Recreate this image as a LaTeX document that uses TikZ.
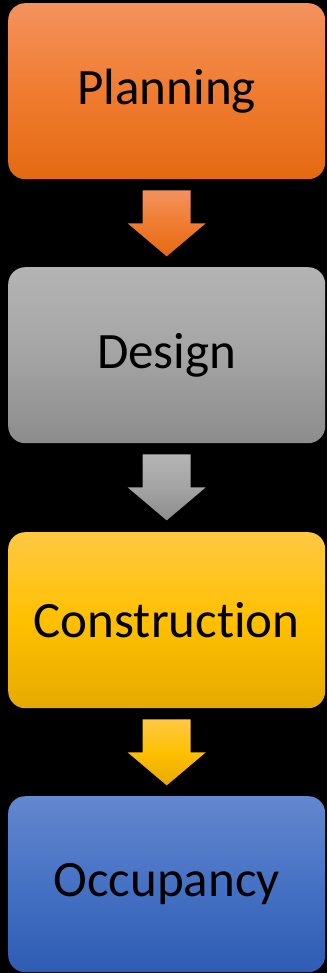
\documentclass[tikz,border=0pt]{standalone}
\usepackage{fontspec}
\setmainfont[Ligatures={NoCommon,NoRare,NoDiscretionary}]{Carlito}
\usetikzlibrary{calc}
\definecolor{orT}{RGB}{243,146,94}
\definecolor{orM}{RGB}{240,124,48}
\definecolor{orB}{RGB}{227,106,18}
\definecolor{grT}{RGB}{180,180,180}
\definecolor{grM}{RGB}{164,164,164}
\definecolor{grB}{RGB}{140,140,140}
\definecolor{ylT}{RGB}{255,200,66}
\definecolor{ylM}{RGB}{255,192,0}
\definecolor{ylB}{RGB}{230,170,0}
\definecolor{blT}{RGB}{100,135,206}
\definecolor{blM}{RGB}{70,114,196}
\definecolor{blB}{RGB}{46,92,180}
\begin{document}
\begin{tikzpicture}[x=1pt,y=-1pt,
  stage/.style={rounded corners=17pt, minimum width=317pt, minimum height=176pt,
    inner sep=0pt, font=\fontsize{51}{60}\selectfont, text=black, anchor=north west},
  orangefill/.style={top color=orT, bottom color=orB, middle color=orM},
  grayfill/.style={top color=grT, bottom color=grB, middle color=grM},
  yellowfill/.style={top color=ylT, bottom color=ylB, middle color=ylM},
  bluefill/.style={top color=blT, bottom color=blB, middle color=blM}
]
\useasboundingbox (0,0) rectangle (327,973);
\fill[black] (0,0) rectangle (327,973);
\node[stage, orangefill] (plan) at (8,3) {Planning};
\node[stage, grayfill] (design) at (8,267) {Design};
\node[stage, yellowfill] (constr) at (8,532) {Construction};
\node[stage, bluefill] (occ) at (8,796) {Occupancy};
\path[orangefill] ($(plan.south)+(-24,11)$) -- ++(48,0) -- ++(0,33) -- ++(15,0)
  -- ($(plan.south)+(0,77)$) -- ($(plan.south)+(-39,44)$) -- ++(15,0) -- cycle;
\path[grayfill] ($(design.south)+(-24,11)$) -- ++(48,0) -- ++(0,33) -- ++(15,0)
  -- ($(design.south)+(0,77)$) -- ($(design.south)+(-39,44)$) -- ++(15,0) -- cycle;
\path[yellowfill] ($(constr.south)+(-24,11)$) -- ++(48,0) -- ++(0,33) -- ++(15,0)
  -- ($(constr.south)+(0,77)$) -- ($(constr.south)+(-39,44)$) -- ++(15,0) -- cycle;
\end{tikzpicture}
\end{document}
